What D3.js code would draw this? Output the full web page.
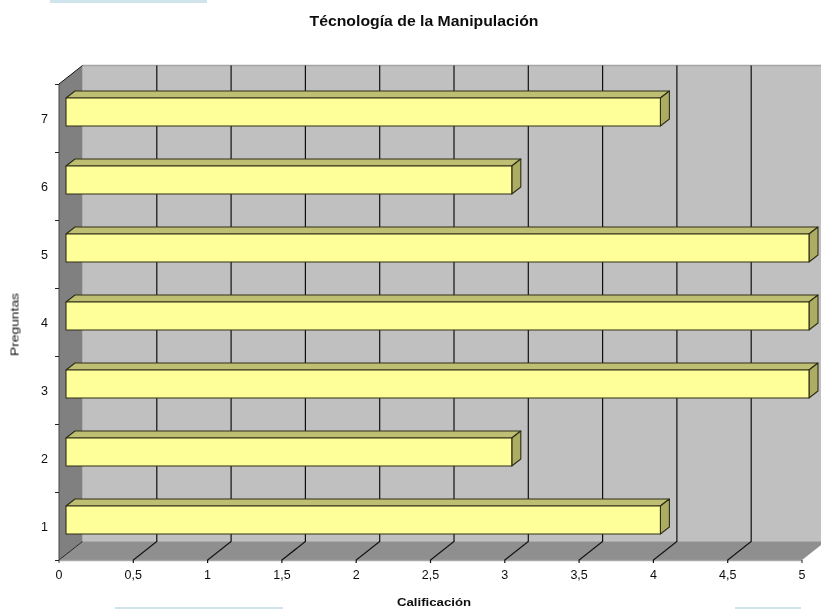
<!DOCTYPE html>
<html><head><meta charset="utf-8">
<script src="https://cdn.jsdelivr.net/npm/d3@7"></script>
<style>html,body{margin:0;background:#fff;overflow:hidden}svg{display:block}text{font-family:"Liberation Sans",Arial,sans-serif;fill:#111}</style>
</head><body><svg id="c" width="821" height="609"></svg>
<script>
const categories = ["1","2","3","4","5","6","7"];
const values = [4,3,5,5,5,3,4];
const xTicks = [0,0.5,1,1.5,2,2.5,3,3.5,4,4.5,5];
const title = "Técnología de la Manipulación";
const xTitle = "Calificación";
const yTitle = "Preguntas";

const svg = d3.select("#c");
svg.append("defs").append("filter").attr("id","soft")
  .attr("filterUnits","userSpaceOnUse").attr("x",0).attr("y",0).attr("width",821).attr("height",609)
  .append("feGaussianBlur").attr("stdDeviation",0.4);
const root = svg.append("g").attr("filter","url(#soft)");
const x = d3.scaleLinear().domain([0,5]).range([59,802]);
const y = d3.scaleBand().domain(categories).range([560,84]);
const depth = {dx:23.5, dy:-18.5};
const barOff = {dx:7, dy:-6};
const barCap = {dx:9, dy:-7};
const barH = 28;
const fmt = d => String(d).replace(".",",");
const L = d3.line();
const yTop = y.range()[1], yBot = y.range()[0];

// stray page backgrounds along the screenshot edges
[[50,0,157,3],[115,607,168,2],[735,607,66,2]].forEach(r=>root.append("rect")
  .attr("x",r[0]).attr("y",r[1]).attr("width",r[2]).attr("height",r[3]).attr("fill","#cfe4ec"));

// back wall
root.append("rect").attr("x",x(0)+depth.dx).attr("y",yTop+depth.dy)
  .attr("width",x(5)-x(0)).attr("height",yBot-yTop).attr("fill","#c0c0c0");
root.append("line").attr("x1",x(0)+depth.dx).attr("x2",x(5)+depth.dx)
  .attr("y1",yTop+depth.dy).attr("y2",yTop+depth.dy).attr("stroke","#a4a4a4").attr("stroke-width",1.5);
// left wall
root.append("path").attr("fill","#808080").attr("d",L([
  [x(0),yTop],[x(0)+depth.dx,yTop+depth.dy],[x(0)+depth.dx,yBot+depth.dy],[x(0),yBot]])+"Z");
// floor
root.append("path").attr("fill","#8f8f8f").attr("d",L([
  [x(0),yBot],[x(0)+depth.dx,yBot+depth.dy],[x(5)+depth.dx,yBot+depth.dy],[x(5),yBot]])+"Z");
root.append("line").attr("x1",x(0)+depth.dx).attr("x2",x(5)+depth.dx)
  .attr("y1",yBot+depth.dy).attr("y2",yBot+depth.dy).attr("stroke","#ababab").attr("stroke-width",1);
root.append("line").attr("x1",x(0)).attr("x2",x(5))
  .attr("y1",yBot+.5).attr("y2",yBot+.5).attr("stroke","#a8a8a8").attr("stroke-width",1.5);

// gridlines
root.append("g").attr("class","grid").selectAll("path").data(xTicks.filter(d=>d!==0&&d!==5)).join("path")
  .attr("fill","none").attr("stroke","#111").attr("stroke-width",1.2)
  .attr("d",d=>L([[x(d),yBot+3],[x(d),yBot],[x(d)+depth.dx,yBot+depth.dy],[x(d)+depth.dx,yTop+depth.dy]]));
root.append("path").attr("fill","none").attr("stroke","#111").attr("d",L([[x(0),yTop],[x(0)+depth.dx,yTop+depth.dy]]));
root.append("path").attr("fill","none").attr("stroke","#222").attr("d",L([[x(0),yBot],[x(0)+depth.dx,yBot+depth.dy]]));
root.append("path").attr("fill","none").attr("stroke","#444").attr("d",L([[x(0),yTop],[x(0),yBot+3]]));
root.append("line").attr("x1",x(5)).attr("x2",x(5)).attr("y1",yBot).attr("y2",yBot+3).attr("stroke","#222");

// left ticks
root.append("g").selectAll("line").data(d3.range(0,8)).join("line")
  .attr("x1",x(0)-4).attr("x2",x(0))
  .attr("y1",i=>yBot-i*y.step()+.5).attr("y2",i=>yBot-i*y.step()+.5).attr("stroke","#222");

// bars
const barsG = root.append("g").attr("stroke","#2e2e18").attr("stroke-width",1.1).attr("stroke-linejoin","round");
const rows = categories.map((c,i)=>({c,v:values[i]}));
rows.slice().reverse().forEach(r=>{
  const x0 = x(0)+barOff.dx, x1 = x(r.v)+barOff.dx;
  const yc = y(r.c)+y.bandwidth()/2+barOff.dy;
  const y0 = yc-barH/2, y1 = yc+barH/2;
  barsG.append("path").attr("fill","#bfbf73").attr("d",L([
    [x0,y0],[x0+barCap.dx,y0+barCap.dy],[x1+barCap.dx,y0+barCap.dy],[x1,y0]])+"Z");
  barsG.append("path").attr("fill","#acac63").attr("d",L([
    [x1,y0],[x1+barCap.dx,y0+barCap.dy],[x1+barCap.dx,y1+barCap.dy],[x1,y1]])+"Z");
  barsG.append("rect").attr("x",x0).attr("y",y0).attr("width",x1-x0).attr("height",barH).attr("fill","#ffff99");
});

// labels
root.append("g").attr("font-size",12.5).selectAll("text").data(categories).join("text")
  .attr("x",48).attr("y",d=>y(d)+y.bandwidth()/2+4.7).attr("text-anchor","end").text(d=>d);
root.append("g").attr("font-size",12.5).selectAll("text").data(xTicks).join("text")
  .attr("x",d=>x(d)).attr("y",578.5).attr("text-anchor","middle").text(fmt);
root.append("text").attr("x",424).attr("y",26).attr("text-anchor","middle")
  .attr("font-size",15).attr("font-weight","bold")
  .attr("textLength",229).attr("lengthAdjust","spacingAndGlyphs").text(title);
root.append("text").attr("x",434).attr("y",606).attr("text-anchor","middle")
  .attr("font-size",11.5).attr("font-weight","bold")
  .attr("textLength",74).attr("lengthAdjust","spacingAndGlyphs").text(xTitle);
root.append("text").attr("transform","translate(18.5,324.5) rotate(-90)").attr("text-anchor","middle")
  .attr("font-size",11.5)
  .attr("textLength",63).attr("lengthAdjust","spacingAndGlyphs").text(yTitle);
</script></body></html>
